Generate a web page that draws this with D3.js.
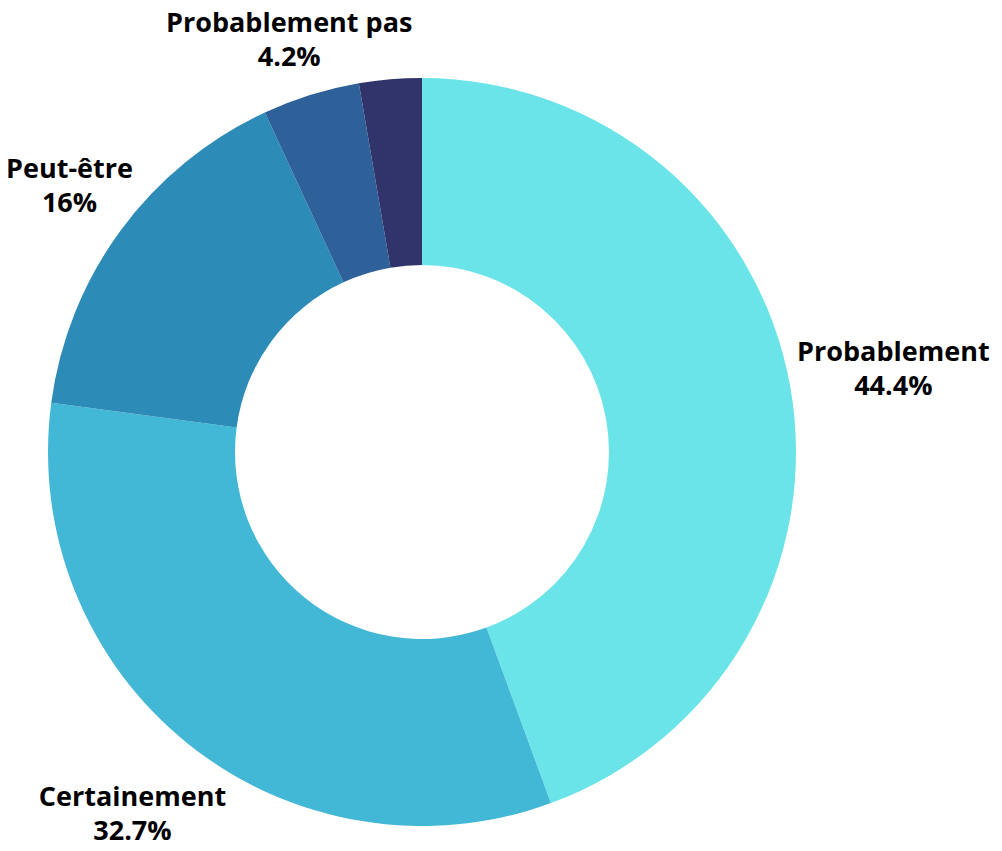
<!DOCTYPE html>
<html>
<head>
<meta charset="utf-8">
<script src="https://cdn.jsdelivr.net/npm/d3@7"></script>
<style>
  html, body { margin: 0; padding: 0; background: #ffffff; }
  svg { display: block; }
  text { font-family: "Open Sans", "Noto Sans", sans-serif; font-weight: 700; fill: #000; }
</style>
</head>
<body>
<svg id="chart" width="1002" height="851"></svg>
<script>
const categories = ["Probablement", "Certainement", "Peut-être", "Probablement pas", "Certainement pas"];
const values = [44.4, 32.7, 16, 4.2, 2.7];
const valueLabels = ["44.4%", "32.7%", "16%", "4.2%", ""];
const colors = ["#6ae4e8", "#43b7d6", "#2d8bb8", "#2e6099", "#30346a"];

const W = 1002, H = 851;
const cx = 422, cy = 452;
const R = 374, r0 = 187;

const svg = d3.select("#chart");
const g = svg.append("g").attr("transform", `translate(${cx},${cy})`);

const data = categories.map((c, i) => ({ name: c, value: values[i], label: valueLabels[i], color: colors[i] }));

const pie = d3.pie().sort(null).value(d => d.value).startAngle(0).endAngle(2 * Math.PI);
const arc = d3.arc().innerRadius(r0).outerRadius(R);
const arcs = pie(data);

g.selectAll("path.slice")
  .data(arcs)
  .join("path")
  .attr("class", "slice")
  .attr("d", arc)
  .attr("fill", d => d.data.color);

const fs = 27, lh = 34;
const labels = g.selectAll("g.lbl")
  .data(arcs.filter(d => d.data.label !== ""))
  .join("g")
  .attr("class", "lbl");

labels.each(function(d) {
  const sel = d3.select(this);
  const t = sel.append("text").attr("text-anchor", "middle").style("font-size", fs + "px");
  t.append("tspan").attr("x", 0).attr("dy", 0).text(d.data.name);
  t.append("tspan").attr("x", 0).attr("dy", lh).text(d.data.label);
  const bb = t.node().getBBox();
  const a = (d.startAngle + d.endAngle) / 2;
  const sx = Math.sin(a), sy = -Math.cos(a);
  const hw = bb.width / 2, hh = 34;
  const dist = R + 4 + Math.abs(sx) * hw + Math.abs(sy) * hh;
  let px = sx * dist, py = sy * dist;
  // keep inside canvas
  px = Math.max(-cx + hw + 6, Math.min(W - cx - hw - 6, px));
  py = Math.max(-cy + 39, Math.min(H - cy - 30, py));
  t.attr("transform", `translate(${px},${py - lh / 2 + fs * 0.36})`);
});
</script>
</body>
</html>
